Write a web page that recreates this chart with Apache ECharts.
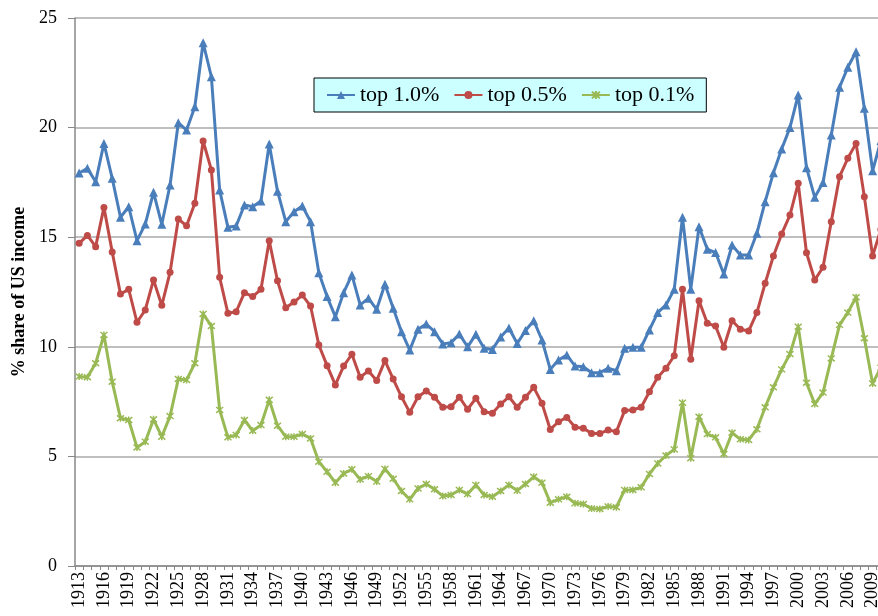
<!DOCTYPE html>
<html>
<head>
<meta charset="utf-8">
<title>share of US income</title>
<script src="https://cdn.jsdelivr.net/npm/echarts@6/dist/echarts.min.js"></script>
<style>
  html, body { margin: 0; padding: 0; background: #fff; overflow: hidden; }
  #chart { width: 900px; height: 616px; }
</style>
</head>
<body>
<div id="chart"></div>
<script>
// years on the x axis, 1913 .. 2010
var years = [];
for (var y = 1913; y <= 2010; y++) years.push(String(y));

// top 1.0%
var top10 = [
  17.93, 18.14, 17.53, 19.28, 17.69, 15.91, 16.39, 14.84, 15.60, 17.05,
  15.59, 17.38, 20.22, 19.89, 20.95, 23.87, 22.32, 17.15, 15.45, 15.51,
  16.47, 16.39, 16.65, 19.25, 17.10, 15.71, 16.16, 16.42, 15.71, 13.38,
  12.29, 11.37, 12.47, 13.28, 11.91, 12.21, 11.71, 12.85, 11.76, 10.69,
  9.85, 10.80, 11.04, 10.69, 10.13, 10.19, 10.58, 10.00, 10.57, 9.93,
  9.88, 10.45, 10.86, 10.15, 10.74, 11.19, 10.31, 8.97, 9.40, 9.63,
  9.12, 9.09, 8.82, 8.82, 9.02, 8.91, 9.93, 9.98, 9.98, 10.77,
  11.56, 11.91, 12.62, 15.91, 12.63, 15.48, 14.45, 14.30, 13.32, 14.64,
  14.19, 14.19, 15.18, 16.62, 17.94, 19.02, 20.00, 21.49, 18.17, 16.82,
  17.49, 19.66, 21.84, 22.75, 23.46, 20.88, 18.03, 19.40
];
// top 0.5%
var top05 = [
  14.72, 15.08, 14.57, 16.36, 14.33, 12.41, 12.62, 11.12, 11.68, 13.05,
  11.89, 13.40, 15.83, 15.52, 16.55, 19.39, 18.07, 13.17, 11.53, 11.60,
  12.47, 12.29, 12.62, 14.84, 13.01, 11.78, 12.04, 12.36, 11.86, 10.08,
  9.14, 8.26, 9.12, 9.66, 8.61, 8.90, 8.46, 9.37, 8.53, 7.72,
  7.01, 7.72, 7.98, 7.70, 7.24, 7.27, 7.70, 7.15, 7.65, 7.04,
  6.97, 7.39, 7.72, 7.24, 7.70, 8.15, 7.42, 6.23, 6.58, 6.78,
  6.33, 6.28, 6.05, 6.05, 6.20, 6.13, 7.09, 7.12, 7.24, 7.95,
  8.61, 9.02, 9.59, 12.62, 9.43, 12.10, 11.07, 10.95, 9.98, 11.19,
  10.80, 10.72, 11.56, 12.90, 14.14, 15.15, 16.01, 17.46, 14.29, 13.05,
  13.63, 15.71, 17.76, 18.60, 19.28, 16.85, 14.14, 15.35
];
// top 0.1%
var top01 = [
  8.64, 8.61, 9.25, 10.54, 8.41, 6.74, 6.66, 5.41, 5.67, 6.69,
  5.90, 6.84, 8.53, 8.49, 9.25, 11.50, 10.95, 7.12, 5.87, 5.98,
  6.66, 6.17, 6.43, 7.58, 6.40, 5.90, 5.90, 6.02, 5.82, 4.76,
  4.30, 3.80, 4.22, 4.41, 3.95, 4.10, 3.85, 4.43, 3.98, 3.42,
  3.04, 3.54, 3.74, 3.50, 3.19, 3.24, 3.47, 3.28, 3.70, 3.24,
  3.16, 3.42, 3.70, 3.44, 3.74, 4.07, 3.80, 2.89, 3.04, 3.16,
  2.86, 2.83, 2.62, 2.60, 2.72, 2.68, 3.47, 3.47, 3.59, 4.20,
  4.68, 5.04, 5.32, 7.45, 4.92, 6.81, 6.02, 5.87, 5.11, 6.08,
  5.78, 5.75, 6.24, 7.24, 8.15, 8.97, 9.67, 10.92, 8.36, 7.39,
  7.91, 9.47, 11.00, 11.56, 12.26, 10.39, 8.33, 9.05
];

var font = '"Liberation Serif", "Times New Roman", serif';
var starPath = 'path://M0,0L10,10M10,0L0,10M5,-1L5,11';

var myChart = echarts.init(document.getElementById('chart'));

function line (name, data, color, symbol, size) {
  return {
    name: name,
    type: 'line',
    data: data,
    symbol: symbol,
    symbolSize: size,
    showAllSymbol: true,
    lineStyle: { color: color, width: 3 },
    itemStyle: { color: color, borderColor: color, borderWidth: symbol === starPath ? 1.5 : 0 },
    emphasis: { disabled: true },
    z: 3
  };
}

myChart.setOption({
  animation: false,
  grid: {
    left: 75,
    right: 15, // plot runs past the visible edge, like the cropped original
    top: 18,
    bottom: 50
  },
  legend: {
    left: 314,
    top: 78,
    padding: [6, 12, 6, 12],
    itemGap: 14,
    itemWidth: 28,
    itemHeight: 10,
    backgroundColor: '#ccffff',
    borderColor: '#000',
    borderWidth: 1,
    borderRadius: 0,
    textStyle: { fontFamily: font, fontSize: 22, color: '#000' },
    data: ['top 1.0%', 'top 0.5%', 'top 0.1%']
  },
  xAxis: {
    type: 'category',
    data: years,
    boundaryGap: true,
    axisLine: { lineStyle: { color: '#888', width: 1.5 } },
    axisTick: { show: true, interval: 0, length: 4, lineStyle: { color: '#888' } },
    axisLabel: {
      interval: 2,
      rotate: 90,
      margin: 6,
      fontFamily: font,
      fontSize: 18,
      color: '#000'
    }
  },
  yAxis: {
    type: 'value',
    min: 0,
    max: 25,
    interval: 5,
    name: '% share of US income',
    nameLocation: 'middle',
    nameGap: 47,
    nameTextStyle: { fontFamily: font, fontSize: 18, fontWeight: 'bold', color: '#000' },
    axisLine: { show: true, lineStyle: { color: '#888', width: 1.5 } },
    axisTick: { show: true, length: 7, lineStyle: { color: '#888' } },
    axisLabel: { fontFamily: font, fontSize: 18, color: '#000', margin: 18 },
    splitLine: { lineStyle: { color: '#aaa', width: 1.5 } }
  },
  series: [
    line('top 1.0%', top10, '#4a7ebb', 'triangle', 9),
    line('top 0.5%', top05, '#be4b48', 'circle', 7),
    line('top 0.1%', top01, '#98b954', starPath, 7)
  ]
});
window.addEventListener('resize', function () { myChart.resize(); });
</script>
</body>
</html>
